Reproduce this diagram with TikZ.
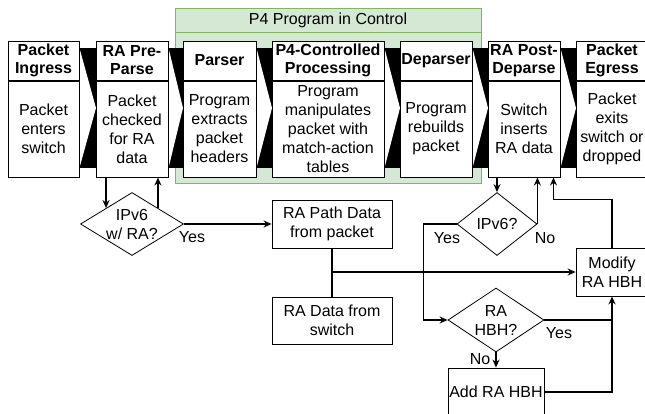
\documentclass[tikz,border=0pt]{standalone}
\usepackage{fontspec}
\setmainfont{Liberation Sans}
\usetikzlibrary{shapes.geometric,arrows.meta,calc}
\definecolor{gfill}{HTML}{D5E8D4}
\definecolor{gline}{HTML}{82B366}
\tikzset{
 every node/.style={font=\fontsize{16}{19}\selectfont, inner sep=0pt},
 hdr/.style={draw, fill=white, line width=1pt, minimum height=39pt, align=center, font=\fontsize{16}{18}\selectfont\bfseries},
 bdy/.style={draw, fill=white, line width=1pt, minimum height=96pt, align=center},
 fbox/.style={draw, fill=white, line width=0.8pt, minimum width=120pt, minimum height=48pt, align=center},
 dia/.style={draw, diamond, line width=0.8pt, fill=white},
 conn/.style={line width=1.4pt, -{Stealth[length=8pt,width=7pt]}},
 plainline/.style={line width=1.4pt}
}
\begin{document}
\begin{tikzpicture}[x=1pt,y=-1pt]
\useasboundingbox (0,0) rectangle (645,413);
% green container
\node[draw=gline, fill=gfill, line width=1pt, minimum width=306pt, minimum height=175pt, anchor=north west] (p4area) at (175,8) {};
\draw[gline, line width=1pt] ([yshift=-24pt]p4area.north west) -- ([yshift=-24pt]p4area.north east);
\node (p4title) at (328,20) {P4 Program in Control};
% black bands with wedges
\foreach \a/\b in {79/96,168/183,256/272,384/400,472/488,560/576}{
  \fill[black] (\a,48) rectangle (\b,168);
  \fill[white] (\a+1,50) -- (\b,108) -- (\a+1,166) -- cycle;
}
% top boxes
\node[hdr, minimum width=71pt] (h1) at (43.5,60.5) {Packet\\Ingress};
\node[bdy, minimum width=71pt, anchor=north] (b1) at (h1.south) {Packet\\enters\\switch};
\node[hdr, minimum width=72pt] (h2) at (132,60.5) {RA Pre-\\Parse};
\node[bdy, minimum width=72pt, anchor=north] (b2) at (h2.south) {Packet\\checked\\for RA\\data};
\node[hdr, minimum width=73pt] (h3) at (219.5,60.5) {Parser};
\node[bdy, minimum width=73pt, anchor=north] (b3) at (h3.south) {Program\\extracts\\packet\\headers};
\node[hdr, minimum width=112pt] (h4) at (328,60.5) {P4-Controlled\\Processing};
\node[bdy, minimum width=112pt, anchor=north] (b4) at (h4.south) {Program\\manipulates\\packet with\\match-action\\tables};
\node[hdr, minimum width=72pt] (h5) at (436,60.5) {Deparser};
\node[bdy, minimum width=72pt, anchor=north] (b5) at (h5.south) {Program\\rebuilds\\packet};
\node[hdr, minimum width=72pt] (h6) at (524,60.5) {RA Post-\\Deparse};
\node[bdy, minimum width=72pt, anchor=north] (b6) at (h6.south) {Switch\\inserts\\RA data};
\node[hdr, minimum width=72pt] (h7) at (612,60.5) {Packet\\Egress};
\node[bdy, minimum width=72pt, anchor=north] (b7) at (h7.south) {Packet\\exits\\switch or\\dropped};
% lower nodes
\node[dia, minimum width=103pt, minimum height=63pt, label={[align=center]center:{IPv6\\w/ RA?}}] (d1) at (132,224) {};
\node[fbox] (path) at (332,224) {RA Path Data\\from packet};
\node[fbox, minimum height=47pt] (sw) at (332,320.5) {RA Data from\\switch};
\node[fbox, minimum width=72pt] (mod) at (612,272) {Modify\\RA HBH};
\node[dia, minimum width=80pt, minimum height=63pt, label={[align=center]center:{IPv6?}}] (d2) at (497,224) {};
\node[dia, minimum width=96pt, minimum height=64pt, label={[align=center]center:{RA\\HBH?}}] (d3) at (496,320) {};
\node[fbox, minimum width=96pt] (add) at (496,392) {Add RA HBH};
% labels
\node (yes1) at (192,237) {Yes};
\node (no2) at (545,238) {No};
\node (yes2) at (447,238) {Yes};
\node (yes3) at (559,333) {Yes};
\node (no3) at (480,359) {No};
% connectors
\draw[conn] (d1.north west |- b2.south) -- (d1.north west);
\draw[conn] (d1.north east) -- (d1.north east |- b2.south);
\draw[conn] (d1.east) -- (path.west);
\draw[plainline] (path.south) -- (sw.north);
\coordinate (jn) at (path.south |- mod.west);
\draw[conn] (jn) -- (mod.west);
\draw[conn] (d2.north |- b6.south) -- (d2.north);
\draw[conn] (d2.east) -- (d2.east |- b6.south);
\draw[conn] (mod.north) -- ++(0,-48) -| ([xshift=-7pt]b6.south east);
\draw[conn] (d2.west) -- ++(-33,0) |- (d3.west);
\draw[conn] (d3.east) -| (mod.south);
\draw[conn] (d3.south) -- (add.north);
\draw[plainline] (add.east) -| (d3.east -| mod.south);
\end{tikzpicture}
\end{document}
